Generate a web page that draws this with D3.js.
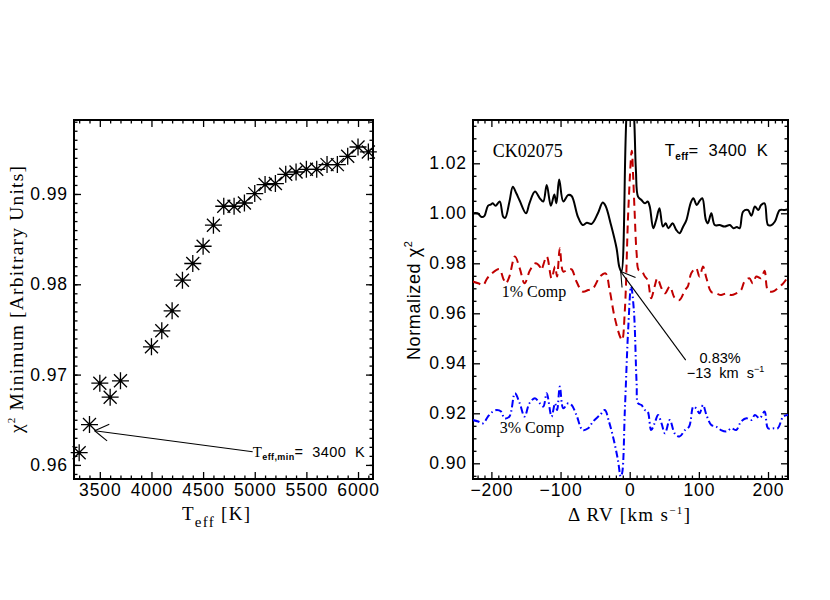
<!DOCTYPE html>
<html>
<head>
<meta charset="utf-8">
<script src="https://cdnjs.cloudflare.com/ajax/libs/d3/7.8.5/d3.min.js"></script>
<style>
  body { margin: 0; background: #fff; }
  text { white-space: pre; }
</style>
</head>
<body>
<svg></svg>
<script>
// --- left panel: chi^2 minimum vs Teff
const teffGrid = [3300, 3400, 3500, 3600, 3700, 4000, 4100, 4200, 4300, 4400, 4500, 4600, 4700,
  4800, 4900, 5000, 5100, 5200, 5300, 5400, 5500, 5600, 5700, 5800, 5900, 6000, 6100];
const chiMin = [0.96135, 0.96447, 0.96905, 0.96750, 0.96931, 0.97308, 0.97485, 0.97706, 0.98045,
  0.98230, 0.98421, 0.98654, 0.98864, 0.98864, 0.98900, 0.99004, 0.99104, 0.99115, 0.99218,
  0.99243, 0.99273, 0.99273, 0.99325, 0.99325, 0.99417, 0.99520, 0.99465];

// --- right panel: normalized chi^2 vs delta RV
const rvBlack = [-227, -220, -214, -210, -205, -201, -198, -194, -188, -183, -180, -174, -169, -164,
  -159, -150, -145, -137, -130, -125, -120, -114, -109, -106, -102, -96, -89, -84, -75, -68, -62,
  -55, -46, -39, -35, -27, -19, -15, -12, -3, 0, 3, 6, 9, 12, 17, 22, 26, 29, 34, 38, 43, 48, 52,
  56, 62, 67, 72, 77, 82, 88, 92, 97, 101, 105, 110, 113, 118, 123, 130, 137, 145, 150, 155, 159,
  164, 171, 176, 181, 186, 190, 195, 200, 205, 210, 217, 224, 229];
const normBlack = [1.0000, 1.0000, 0.9985, 0.9990, 1.0030, 1.0035, 1.0040, 1.0030, 1.0047, 0.9987,
  0.9982, 1.0045, 1.0106, 1.0080, 1.0050, 1.0000, 1.0040, 1.0087, 1.0060, 1.0047, 1.0113, 1.0030,
  1.0075, 1.0040, 1.0135, 1.0047, 1.0073, 1.0069, 0.9987, 0.9953, 0.9962, 0.9958, 1.0000, 1.0043,
  1.0030, 0.9953, 0.9860, 0.9785, 0.9767, 1.0450, 1.0470, 1.0470, 1.0400, 1.0170, 1.0067, 1.0053,
  1.0040, 1.0047, 1.0027, 0.9940, 0.9970, 1.0020, 0.9947, 0.9960, 0.9940, 0.9960, 0.9935, 0.9920,
  0.9945, 0.9973, 1.0040, 1.0060, 1.0033, 1.0050, 1.0060, 0.9975, 0.9960, 1.0000, 0.9953, 0.9953,
  0.9947, 0.9953, 0.9940, 0.9945, 0.9940, 1.0007, 1.0013, 0.9990, 1.0027, 1.0013, 1.0033, 1.0040,
  0.9953, 0.9953, 0.9967, 1.0013, 1.0013, 1.0016];

const rvRed = [-227, -219, -212, -206, -199, -193, -188, -183, -179, -174, -166, -159, -152, -144,
  -136, -130, -128, -120, -113, -108, -105, -101, -96, -89, -84, -77, -68, -60, -53, -43, -35, -29,
  -22, -14, -11, -7, -2, 3, 5, 7, 10, 13, 17, 22, 26, 31, 36, 40, 46, 51, 58, 65, 72, 80, 84, 89,
  96, 101, 106, 111, 118, 125, 132, 140, 147, 154, 161, 166, 173, 178, 183, 190, 195, 200, 207,
  214, 222, 229];
const normRed = [0.9727, 0.9720, 0.9713, 0.9740, 0.9760, 0.9773, 0.9776, 0.9740, 0.9720, 0.9747,
  0.9827, 0.9780, 0.9720, 0.9773, 0.9800, 0.9787, 0.9773, 0.9827, 0.9740, 0.9787, 0.9747, 0.9860,
  0.9767, 0.9776, 0.9776, 0.9727, 0.9687, 0.9693, 0.9700, 0.9747, 0.9760, 0.9693, 0.9587, 0.9507,
  0.9493, 0.9613, 1.0013, 1.0250, 1.0147, 1.0013, 0.9840, 0.9773, 0.9770, 0.9747, 0.9733, 0.9660,
  0.9707, 0.9740, 0.9700, 0.9680, 0.9707, 0.9662, 0.9653, 0.9693, 0.9707, 0.9760, 0.9780, 0.9747,
  0.9787, 0.9740, 0.9685, 0.9680, 0.9673, 0.9680, 0.9673, 0.9680, 0.9693, 0.9727, 0.9740, 0.9720,
  0.9747, 0.9740, 0.9770, 0.9690, 0.9687, 0.9700, 0.9720, 0.9747];

const rvBlue = [-227, -219, -212, -205, -198, -192, -186, -181, -174, -166, -159, -152, -145, -137,
  -130, -125, -120, -113, -108, -105, -101, -96, -89, -84, -77, -68, -60, -53, -43, -36, -30, -23,
  -17, -13, -11, -7, -2, 2, 6, 10, 12, 17, 22, 26, 31, 36, 41, 46, 51, 58, 65, 72, 80, 86, 92, 96,
  101, 106, 111, 118, 125, 132, 140, 147, 154, 161, 169, 176, 181, 188, 195, 200, 207, 214, 222,
  229];
const normBlue = [0.9173, 0.9167, 0.9160, 0.9187, 0.9207, 0.9213, 0.9207, 0.9180, 0.9187, 0.9280,
  0.9240, 0.9187, 0.9240, 0.9260, 0.9240, 0.9227, 0.9280, 0.9187, 0.9240, 0.9213, 0.9307, 0.9220,
  0.9240, 0.9233, 0.9193, 0.9133, 0.9140, 0.9167, 0.9193, 0.9213, 0.9167, 0.9093, 0.9013, 0.8947,
  0.8960, 0.9213, 0.9547, 0.9707, 0.9613, 0.9320, 0.9240, 0.9233, 0.9213, 0.9207, 0.9133, 0.9160,
  0.9193, 0.9160, 0.9120, 0.9173, 0.9120, 0.9107, 0.9133, 0.9147, 0.9227, 0.9220, 0.9200, 0.9233,
  0.9193, 0.9153, 0.9147, 0.9133, 0.9127, 0.9140, 0.9133, 0.9167, 0.9180, 0.9173, 0.9193, 0.9180,
  0.9207, 0.9140, 0.9140, 0.9140, 0.9187, 0.9193];

// --- ticks
const leftXTicks = [3500, 4000, 4500, 5000, 5500, 6000];
const leftYTicks = [0.96, 0.97, 0.98, 0.99];
const rightXTicks = [-200, -100, 0, 100, 200];
const rightYTicks = [0.90, 0.92, 0.94, 0.96, 0.98, 1.00, 1.02];

const WIDTH = 830;
const HEIGHT = 600;
const SANS = '"Liberation Sans", Arial, sans-serif';
const SERIF = '"Liberation Serif", "Times New Roman", serif';

const LEFT = { x0: 74, x1: 373, y0: 120, y1: 479 };
const RIGHT = { x0: 473, x1: 788, y0: 120, y1: 479 };

const svg = d3.select('svg').
attr('width', WIDTH).
attr('height', HEIGHT);

/* --SCALES-- */

const xL = d3.scaleLinear().domain([3250, 6145]).range([LEFT.x0, LEFT.x1]);
const yL = d3.scaleLinear().domain([0.95844, 0.99819]).range([LEFT.y1, LEFT.y0]);
const xR = d3.scaleLinear().domain([-226.6, 228.9]).range([RIGHT.x0, RIGHT.x1]);
const yR = d3.scaleLinear().domain([0.89372, 1.03732]).range([RIGHT.y1, RIGHT.y0]);

/* --AXES (IDL style: inward ticks on all four sides)-- */

function frame(box, x, y, xMajor, xMinor, yMajor, yMinor, fmtX, fmtY) {
  const g = svg.append('g');
  const put = (axis, tx, ty) => {
    const a = g.append('g').attr('transform', `translate(${tx},${ty})`).call(axis);
    a.select('.domain').remove();
    a.selectAll('line').attr('stroke', '#000').attr('stroke-width', 1.3);
    a.attr('font-family', SANS).attr('font-size', 17.5);
    a.selectAll('text').attr('fill', '#000').attr('letter-spacing', 0.9);
    return a;
  };
  put(d3.axisBottom(x).tickValues(xMajor).tickSizeInner(-7).tickSizeOuter(0).tickPadding(5).tickFormat(fmtX), 0, box.y1);
  put(d3.axisBottom(x).tickValues(xMinor).tickSizeInner(-3.5).tickSizeOuter(0).tickFormat(''), 0, box.y1);
  put(d3.axisTop(x).tickValues(xMajor).tickSizeInner(-7).tickSizeOuter(0).tickFormat(''), 0, box.y0);
  put(d3.axisTop(x).tickValues(xMinor).tickSizeInner(-3.5).tickSizeOuter(0).tickFormat(''), 0, box.y0);
  put(d3.axisLeft(y).tickValues(yMajor).tickSizeInner(-7).tickSizeOuter(0).tickPadding(6).tickFormat(fmtY), box.x0, 0);
  put(d3.axisLeft(y).tickValues(yMinor).tickSizeInner(-3.5).tickSizeOuter(0).tickFormat(''), box.x0, 0);
  put(d3.axisRight(y).tickValues(yMajor).tickSizeInner(-7).tickSizeOuter(0).tickFormat(''), box.x1, 0);
  put(d3.axisRight(y).tickValues(yMinor).tickSizeInner(-3.5).tickSizeOuter(0).tickFormat(''), box.x1, 0);
  g.append('rect').
  attr('x', box.x0).attr('y', box.y0).
  attr('width', box.x1 - box.x0).attr('height', box.y1 - box.y0).
  attr('fill', 'none').attr('stroke', '#000').attr('stroke-width', 2);
}

frame(LEFT, xL, yL, leftXTicks,
d3.range(33, 62).map(v => v * 100).filter(v => v % 500 != 0),
leftYTicks,
d3.range(959, 999).map(v => v / 1000).filter(v => v % 10 != 0),
d3.format('d'), d3.format('.2f'));

frame(RIGHT, xR, yR, rightXTicks,
d3.range(-22, 23).map(v => v * 10).filter(v => v % 100 != 0),
rightYTicks,
d3.range(179, 208).map(v => v / 200).filter((v, i) => Math.round(v * 1000) % 20 != 0),
d3.format('d'), d3.format('.2f'));

/* --LEFT PANEL DATA-- */

const starR = 8.5;
const starA = 6.5;
const starPath = `M${-starR},0L${starR},0M0,${-starR}L0,${starR}M${-starA},${-starA}L${starA},${starA}M${-starA},${starA}L${starA},${-starA}`;

const stars = svg.append('g').selectAll('g').
data(teffGrid.map((t, i) => ({ teff: t, chi: chiMin[i] }))).
enter().
append('g').
attr('transform', d => `translate(${xL(d.teff)},${yL(d.chi)})`);

stars.append('path').
attr('d', starPath).
attr('stroke', '#000').
attr('stroke-width', 1.3).
attr('fill', 'none');

stars.append('circle').
attr('r', 1.6).
attr('fill', '#000');

/* --RIGHT PANEL DATA-- */

svg.append('clipPath').attr('id', 'clipR').
append('rect').
attr('x', RIGHT.x0).attr('y', RIGHT.y0).
attr('width', RIGHT.x1 - RIGHT.x0).attr('height', RIGHT.y1 - RIGHT.y0);

const line = d3.line().
x(d => xR(d[0])).
y(d => yR(d[1])).
curve(d3.curveCatmullRom.alpha(0.5));

const curves = [
{ rv: rvBlue, val: normBlue, color: '#0000ff', dash: '7,3,1.5,3' },
{ rv: rvRed, val: normRed, color: '#c00000', dash: '8,5' },
{ rv: rvBlack, val: normBlack, color: '#000', dash: null }];

svg.append('g').attr('clip-path', 'url(#clipR)').
selectAll('path').
data(curves).
enter().
append('path').
attr('d', c => line(c.rv.map((r, i) => [r, c.val[i]]))).
attr('fill', 'none').
attr('stroke', c => c.color).
attr('stroke-width', 2).
attr('stroke-linejoin', 'round').
attr('stroke-dasharray', c => c.dash);

/* --ANNOTATIONS-- */

function arrow(x1, y1, x2, y2, head, ang) {
  const g = svg.append('g').attr('stroke', '#000').attr('stroke-width', 1.1);
  g.append('line').attr('x1', x1).attr('y1', y1).attr('x2', x2).attr('y2', y2);
  const th = Math.atan2(y1 - y2, x1 - x2);
  [-ang, ang].forEach(a => {
    g.append('line').
    attr('x1', x2).attr('y1', y2).
    attr('x2', x2 + head * Math.cos(th + a)).
    attr('y2', y2 + head * Math.sin(th + a));
  });
}

arrow(xL(4980), yL(0.96146), xL(3450), yL(0.96378), 16, 0.55);
arrow(xR(81), yR(0.9413), xR(-13), yR(0.9767), 16, 0.55);

function label(x, y, parts, family, size) {
  const t = svg.append('text').
  attr('x', x).attr('y', y).
  attr('font-family', family).
  attr('font-size', size).
  attr('fill', '#000');
  parts.forEach(p => {
    t.append('tspan').
    text(p.s).
    attr('dy', p.dy || 0).
    attr('font-size', p.size || size).
    attr('font-family', p.family || family).
    attr('font-weight', p.bold ? 'bold' : 'normal');
  });
  return t;
}

label(xL(4980), yL(0.96087), [
{ s: 'T', family: SERIF, size: 15 },
{ s: 'eff,min', size: 9, bold: true, dy: 3 },
{ s: '=  3400  K', dy: -3 }],
SANS, 14.5).
attr('letter-spacing', 0.4);

label(xR(-198), yR(1.0225), [{ s: 'CK02075' }], SERIF, 18);

label(xR(50.6), yR(1.0229), [
{ s: 'T' },
{ s: 'eff', size: 10, bold: true, dy: 4 },
{ s: '=  3400  K', dy: -4 }],
SANS, 16.5).
attr('letter-spacing', 0.4);

label(xR(-185), yR(0.9665), [{ s: '1% Comp' }], SERIF, 16);
label(xR(-188), yR(0.9121), [{ s: '3% Comp' }], SERIF, 16);

label(xR(101), yR(0.9400), [{ s: '0.83%' }], SANS, 14.5);
label(xR(82.4), yR(0.9341), [
{ s: '\u221213  km  s' },
{ s: '\u22121', size: 9, dy: -6 }],
SANS, 14.5);

/* --AXIS TITLES-- */

label(182, 520, [
{ s: 'T' },
{ s: 'eff', size: 15, dy: 7 },
{ s: ' [K]', dy: -7 }],
SERIF, 19).
attr('textLength', 68).attr('lengthAdjust', 'spacing');

label(568, 521, [
{ s: '\u0394 RV [km s' },
{ s: '\u22121', size: 11, dy: -7 },
{ s: ']', dy: 7 }],
SERIF, 19).
attr('textLength', 122).attr('lengthAdjust', 'spacing');

label(0, 0, [
{ s: '\u03c7' },
{ s: '2', size: 11, dy: -8 },
{ s: ' Minimum [Arbitrary Units]', dy: 8 }],
SERIF, 19.5).
attr('text-anchor', 'middle').
attr('transform', `translate(23, ${(LEFT.y0 + LEFT.y1) / 2}) rotate(-90)`).
attr('textLength', 267).attr('lengthAdjust', 'spacing');

label(0, 0, [
{ s: 'Normalized \u03c7' },
{ s: '2', size: 11, dy: -8 }],
SANS, 18).
attr('text-anchor', 'middle').
attr('transform', `translate(420, ${(LEFT.y0 + LEFT.y1) / 2 + 1}) rotate(-90)`).
attr('textLength', 119).attr('lengthAdjust', 'spacing');
</script>
</body>
</html>
